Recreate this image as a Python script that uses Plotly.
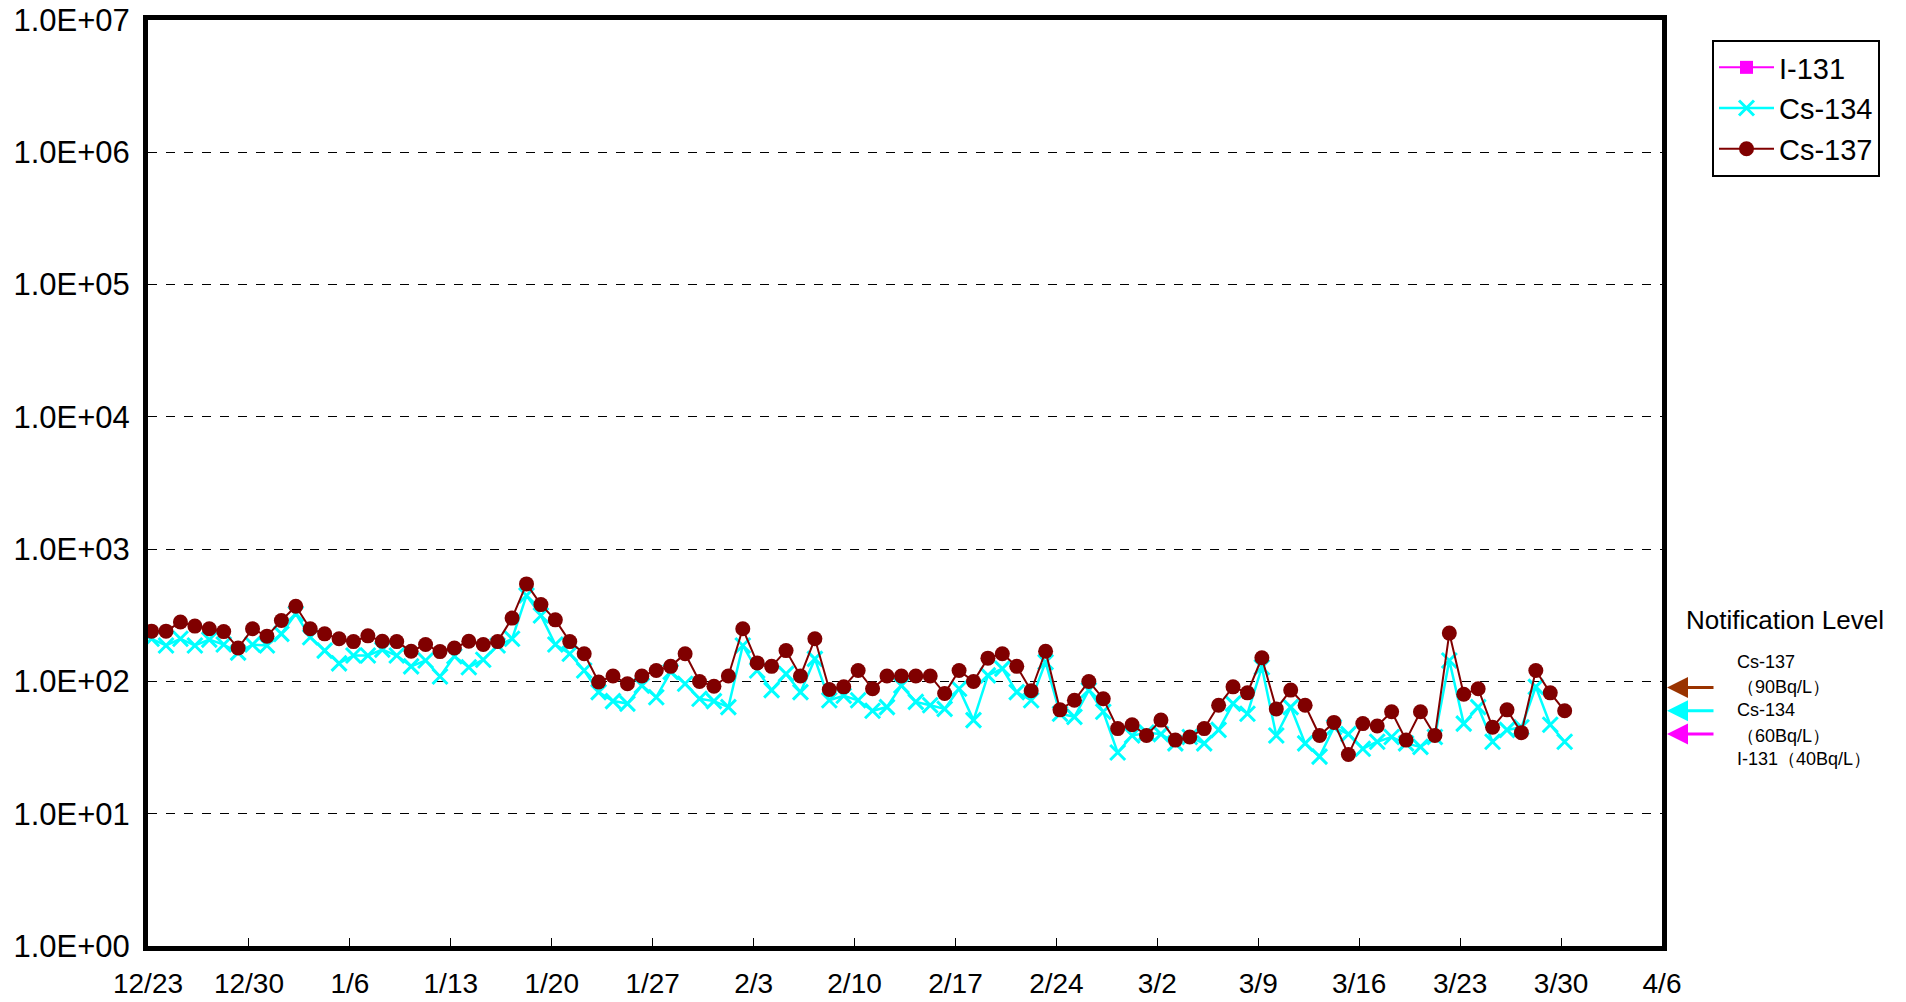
import math
import pandas as pd
import plotly.graph_objects as go

# ---------------- data ----------------
# daily samples, 2011-12-22 .. 2012-03-30 (first point lies left of the axis and is clipped)
start_date = "2011-12-22 06:00"
n_days = 100

cs137 = [300,
         240, 240, 281, 262, 250, 238, 179, 250, 220, 289, 370, 250, 229, 210, 200, 221, 201, 200, 169, 190, 168, 179, 201, 190, 200,
         301, 546, 381, 292, 200, 162, 99, 110, 96, 110, 121, 130, 162, 100, 92, 110, 250, 138, 130, 171, 110, 210, 87, 91, 121,
         88, 110, 110, 110, 110, 81, 121, 100, 150, 162, 130, 85, 169, 61, 72, 100, 74, 44, 47, 39, 51, 36, 38, 44, 66,
         91, 82, 151, 62, 86, 66, 39, 49, 28, 48, 46, 59, 36, 59, 39, 232, 80, 88, 45, 61, 41, 121, 82, 60]

cs134 = [230,
         210, 187, 210, 187, 207, 190, 165, 190, 187, 229, 324, 216, 171, 137, 157, 157, 174, 157, 130, 144, 109, 155, 128, 146, 187,
         210, 446, 315, 190, 162, 121, 83, 71, 68, 93, 76, 118, 96, 74, 71, 64, 187, 121, 86, 114, 83, 148, 72, 78, 72,
         60, 64, 93, 70, 66, 62, 88, 51, 111, 125, 83, 72, 140, 57, 54, 86, 59, 29, 39, 41, 40, 34, 38, 34, 43,
         68, 57, 128, 39, 64, 34, 27, 45, 40, 31, 35, 38, 34, 32, 38, 144, 48, 64, 35, 43, 45, 91, 47, 35]

i131 = [None]  # not detected (legend entry only)

series_names = ["I-131", "Cs-134", "Cs-137"]

y_tickvals = [1, 10, 100, 1000, 10000, 100000, 1000000, 10000000]
y_ticktext = ["1.0E+00", "1.0E+01", "1.0E+02", "1.0E+03", "1.0E+04", "1.0E+05", "1.0E+06", "1.0E+07"]

x_start, x_end = "2011-12-23", "2012-04-06"

notif_title = "Notification Level"
notif_levels = [90, 60, 40]          # Cs-137, Cs-134, I-131 (Bq/L)
notif_lines = ["Cs-137", "（90Bq/L）", "Cs-134", "（60Bq/L）", "I-131（40Bq/L）"]

dates = pd.date_range(start=start_date, periods=n_days, freq="D")

# ---------------- geometry (page pixels) ----------------
W, H = 1906, 1002
PL, PR, PT, PB = 148, 1662, 20, 946


def px(x):
    return (x - PL) / (PR - PL)


def py(y):
    return (PB - y) / (PB - PT)


FONT = "Liberation Sans, Arial, sans-serif"

fig = go.Figure()
fig.add_trace(go.Scatter(x=[x_start], y=i131, name=series_names[0], mode="lines+markers",
                         line=dict(color="#FF00FF", width=2),
                         marker=dict(symbol="square", size=13, color="#FF00FF")))
fig.add_trace(go.Scatter(x=dates, y=cs134, name=series_names[1], mode="lines+markers",
                         line=dict(color="#00FFFF", width=2.5),
                         marker=dict(symbol="x-thin", size=15, color="#00FFFF",
                                     line=dict(color="#00FFFF", width=3))))
fig.add_trace(go.Scatter(x=dates, y=cs137, name=series_names[2], mode="lines+markers",
                         line=dict(color="#800000", width=2),
                         marker=dict(symbol="circle", size=15, color="#800000")))

fig.update_layout(
    width=W, height=H,
    margin=dict(l=PL, r=W - PR, t=PT, b=H - PB, pad=0, autoexpand=False),
    paper_bgcolor="white", plot_bgcolor="white",
    font=dict(family=FONT, color="black"),
    showlegend=True,
    legend=dict(x=px(1712), y=py(40), xanchor="left", yanchor="top",
                bordercolor="black", borderwidth=2, bgcolor="white",
                font=dict(size=29, family=FONT), itemwidth=55,
                tracegroupgap=0),
)

fig.update_xaxes(
    type="date", range=[x_start, x_end], automargin=False,
    tick0=x_start, dtick=7 * 24 * 3600 * 1000, tickformat="%-m/%-d",
    showgrid=False, zeroline=False,
    showline=True, linecolor="black", linewidth=5, mirror=True,
    ticks="inside", ticklen=8, tickwidth=1, tickcolor="black",
    tickfont=dict(size=28, family=FONT),
    ticklabelstandoff=8, ticklabeloverflow="allow",
)
fig.update_yaxes(
    type="log", range=[0, 7], automargin=False,
    tickvals=y_tickvals, ticktext=y_ticktext,
    showgrid=True, gridcolor="black", gridwidth=1, griddash="dash",
    zeroline=False,
    showline=True, linecolor="black", linewidth=5, mirror=True,
    ticks="inside", ticklen=8, tickwidth=1, tickcolor="black",
    tickfont=dict(size=31, family=FONT),
    ticklabelstandoff=7, ticklabeloverflow="allow",
)

# notification level title
fig.add_annotation(x=px(1785), y=py(620), xref="paper", yref="paper", text=notif_title,
                   showarrow=False, xanchor="center", yanchor="middle",
                   font=dict(size=26, family=FONT))

# arrows pointing at the axis
arrow_colors = ["#993300", "#00FFFF", "#FF00FF"]
for val, col in zip(notif_levels, arrow_colors):
    fig.add_annotation(x=px(1667), y=math.log10(val), xref="paper", yref="y", text="",
                       showarrow=True, ax=48, ay=0, axref="pixel", ayref="pixel",
                       arrowhead=2, arrowsize=1.4, arrowwidth=3, arrowcolor=col)

line_y = [662, 687, 710, 736, 759]
for txt, yy in zip(notif_lines, line_y):
    fig.add_annotation(x=px(1735), y=py(yy), xref="paper", yref="paper", text=txt,
                       showarrow=False, xanchor="left", yanchor="middle",
                       font=dict(size=18, family=FONT))

fig.write_html("out.html", config={"displayModeBar": False},
               post_script="document.body.style.margin='0px';")
